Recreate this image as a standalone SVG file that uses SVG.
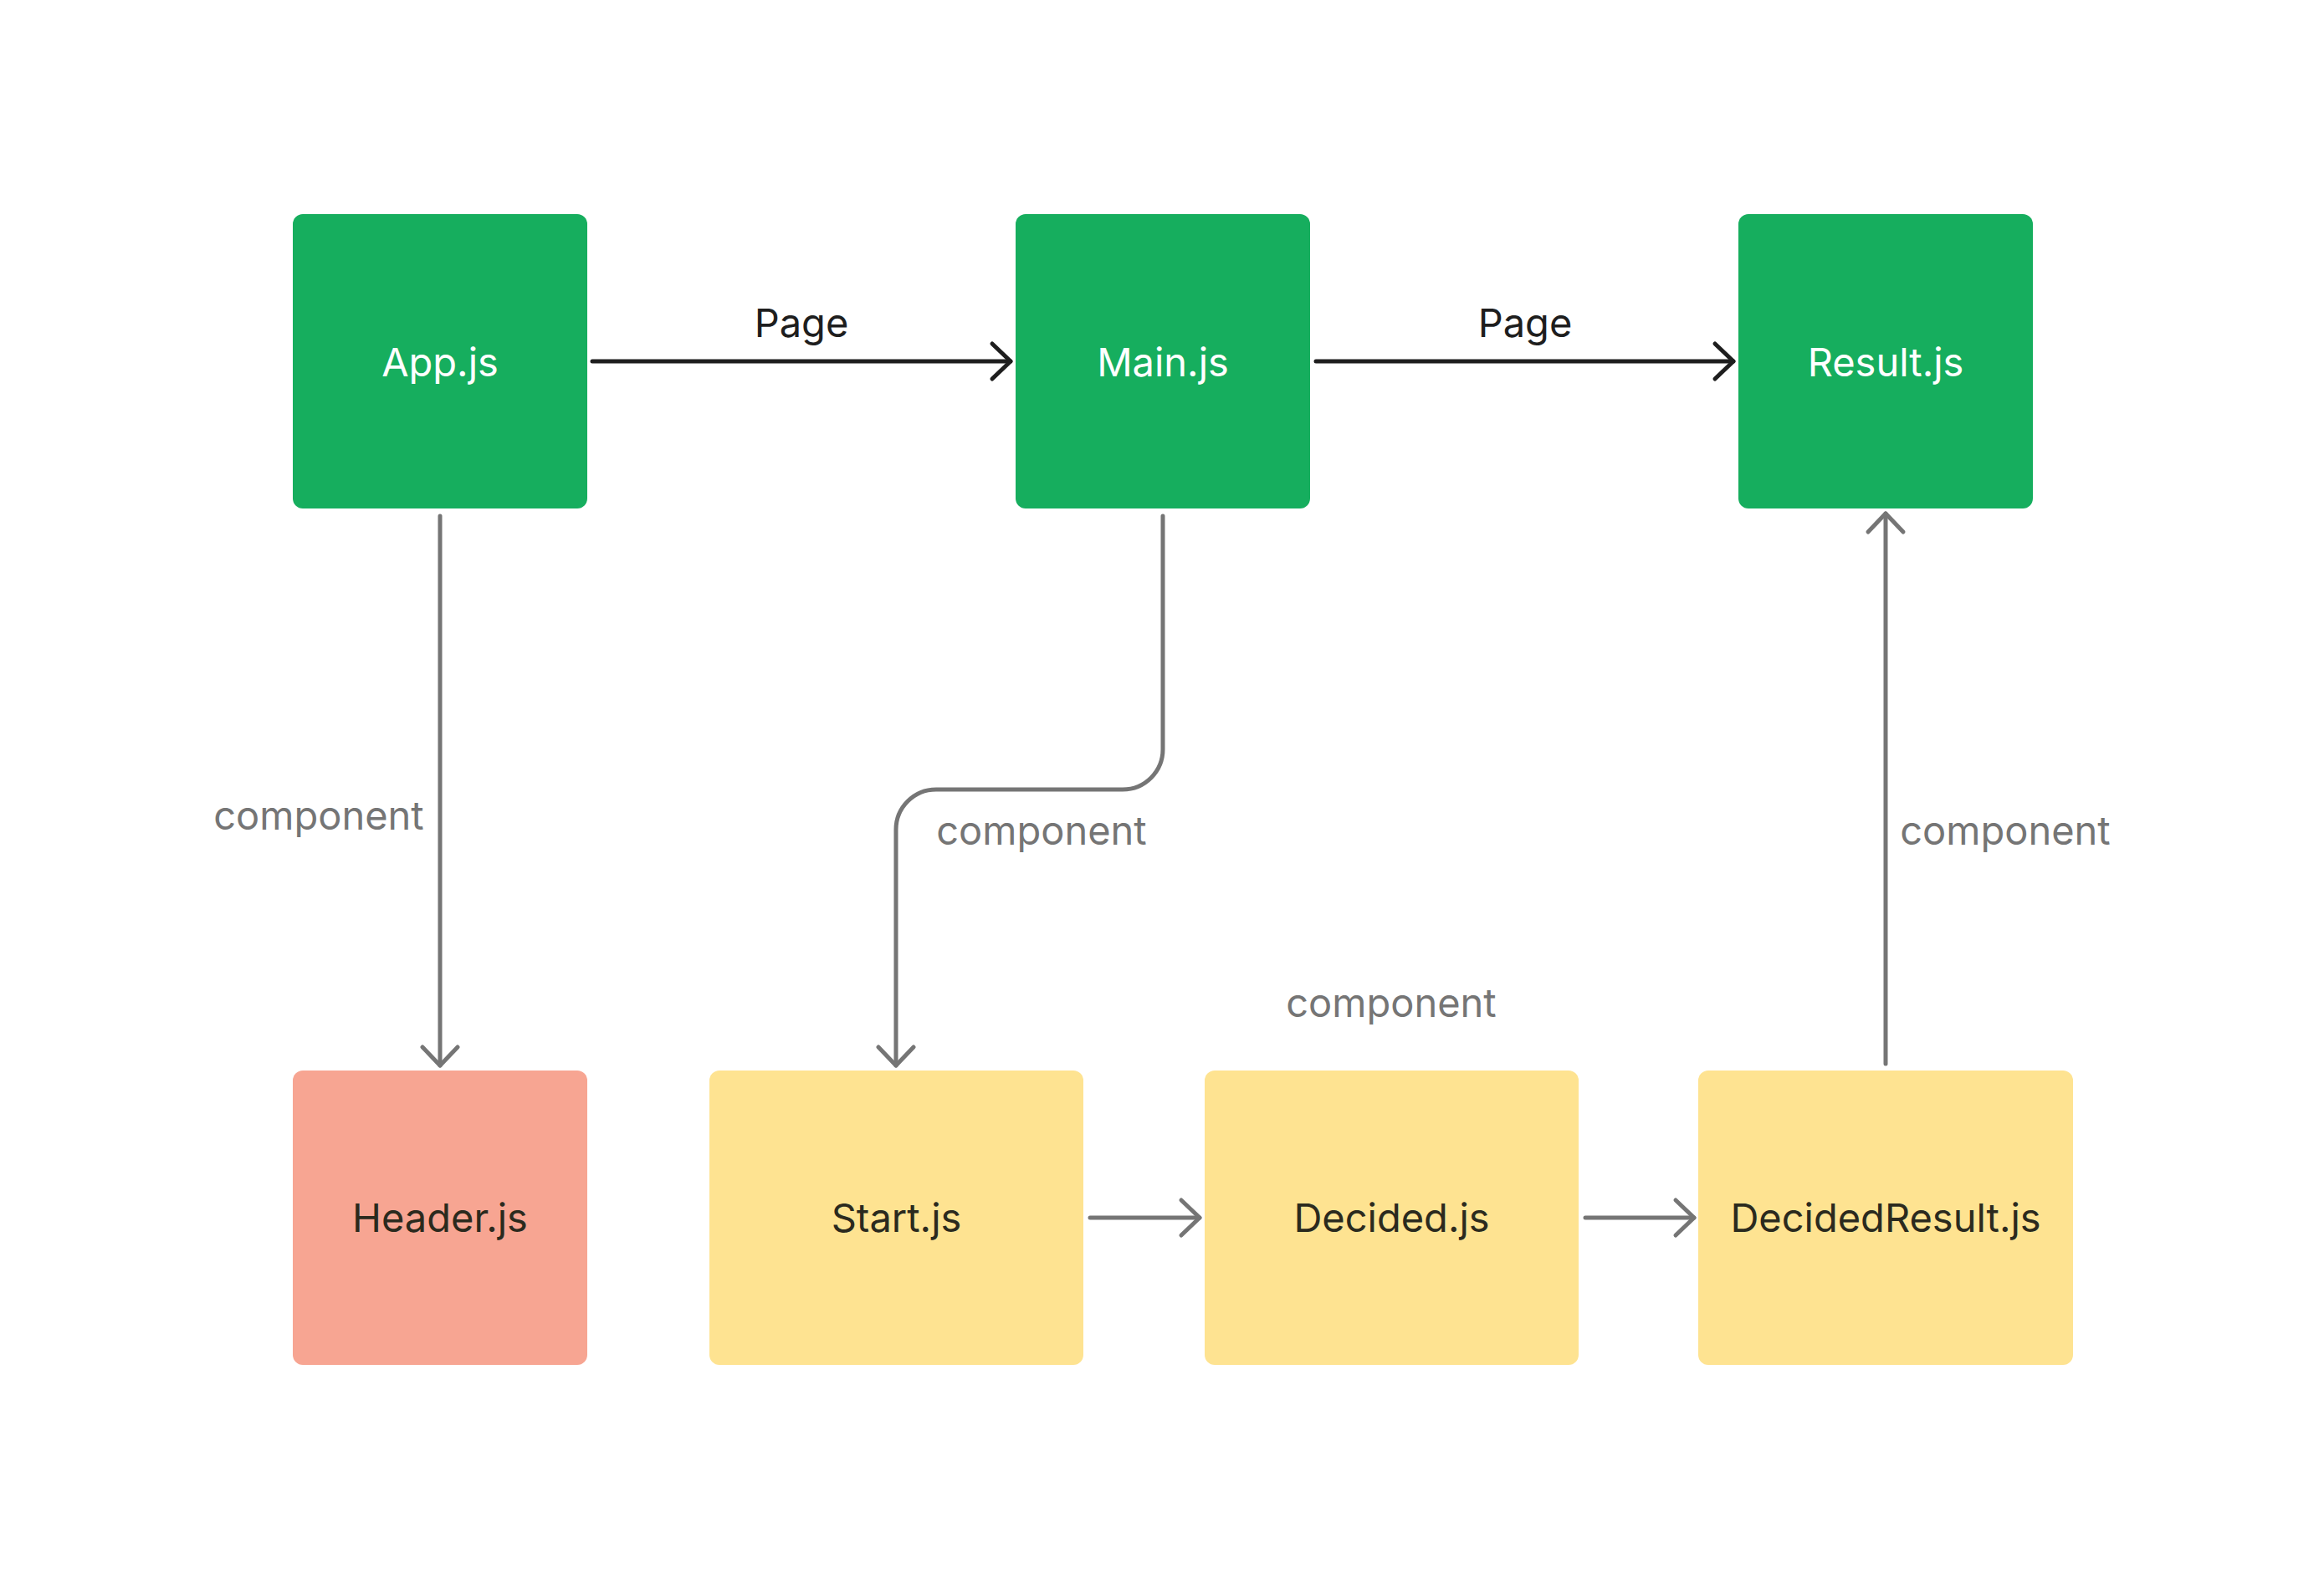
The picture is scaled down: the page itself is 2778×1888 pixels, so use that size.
<svg xmlns="http://www.w3.org/2000/svg" width="2778" height="1888" viewBox="0 0 2778 1888">
<defs>
<style>
.green{fill:#16AE5E}
.pink{fill:#F7A592}
.yellow{fill:#FEE391}
.lbl{font-family:Inter,"Liberation Sans",sans-serif;font-size:47px;text-anchor:middle}
.wt{fill:#FFFFFF}
.dk{fill:#2B2A1E}
.blk{fill:#1E1E1E}
.gr{fill:#757575}
.lineB{fill:none;stroke:#1E1E1E;stroke-width:5;stroke-linecap:round;stroke-linejoin:round}
.lineG{fill:none;stroke:#757575;stroke-width:5;stroke-linecap:round;stroke-linejoin:round}
</style>
<marker id="arrB" viewBox="0 0 32 52" refX="27" refY="26" markerWidth="32" markerHeight="52" markerUnits="userSpaceOnUse" orient="auto">
<path d="M5 5 L27 26 L5 47" fill="none" stroke="#1E1E1E" stroke-width="5" stroke-linecap="round" stroke-linejoin="round"/>
</marker>
<marker id="arrG" viewBox="0 0 32 52" refX="27" refY="26" markerWidth="32" markerHeight="52" markerUnits="userSpaceOnUse" orient="auto">
<path d="M5 5 L27 26 L5 47" fill="none" stroke="#757575" stroke-width="5" stroke-linecap="round" stroke-linejoin="round"/>
</marker>
</defs>
<rect width="2778" height="1888" fill="#FFFFFF"/>
<g id="connectors">
<path class="lineB" d="M708 432 H1208" marker-end="url(#arrB)"/>
<path class="lineB" d="M1573 432 H2072" marker-end="url(#arrB)"/>
<path class="lineG" d="M526 617 V1274" marker-end="url(#arrG)"/>
<path class="lineG" d="M1390 617 V896 A48 48 0 0 1 1342 944 H1119 A48 48 0 0 0 1071 992 V1274" marker-end="url(#arrG)"/>
<path class="lineG" d="M1303 1456 H1434" marker-end="url(#arrG)"/>
<path class="lineG" d="M1895 1456 H2025" marker-end="url(#arrG)"/>
<path class="lineG" d="M2254 1272 V614" marker-end="url(#arrG)"/>
<text class="lbl blk" x="958" y="403">Page</text>
<text class="lbl blk" x="1823" y="403">Page</text>
<text class="lbl gr" x="381" y="992">component</text>
<text class="lbl gr" x="1245" y="1010">component</text>
<text class="lbl gr" x="2397" y="1010">component</text>
<text class="lbl gr" x="1663" y="1216">component</text>
</g>
<g id="app">
<rect class="green" x="350" y="256" width="352" height="352" rx="12"/>
<text class="lbl wt" x="526" y="450">App.js</text>
</g>
<g id="main">
<rect class="green" x="1214" y="256" width="352" height="352" rx="12"/>
<text class="lbl wt" x="1390" y="450">Main.js</text>
</g>
<g id="result">
<rect class="green" x="2078" y="256" width="352" height="352" rx="12"/>
<text class="lbl wt" x="2254" y="450">Result.js</text>
</g>
<g id="header">
<rect class="pink" x="350" y="1280" width="352" height="352" rx="12"/>
<text class="lbl dk" x="526" y="1473">Header.js</text>
</g>
<g id="start">
<rect class="yellow" x="848" y="1280" width="447" height="352" rx="12"/>
<text class="lbl dk" x="1071.5" y="1473">Start.js</text>
</g>
<g id="decided">
<rect class="yellow" x="1440" y="1280" width="447" height="352" rx="12"/>
<text class="lbl dk" x="1663.5" y="1473">Decided.js</text>
</g>
<g id="decidedresult">
<rect class="yellow" x="2030" y="1280" width="448" height="352" rx="12"/>
<text class="lbl dk" x="2254" y="1473">DecidedResult.js</text>
</g>
</svg>
